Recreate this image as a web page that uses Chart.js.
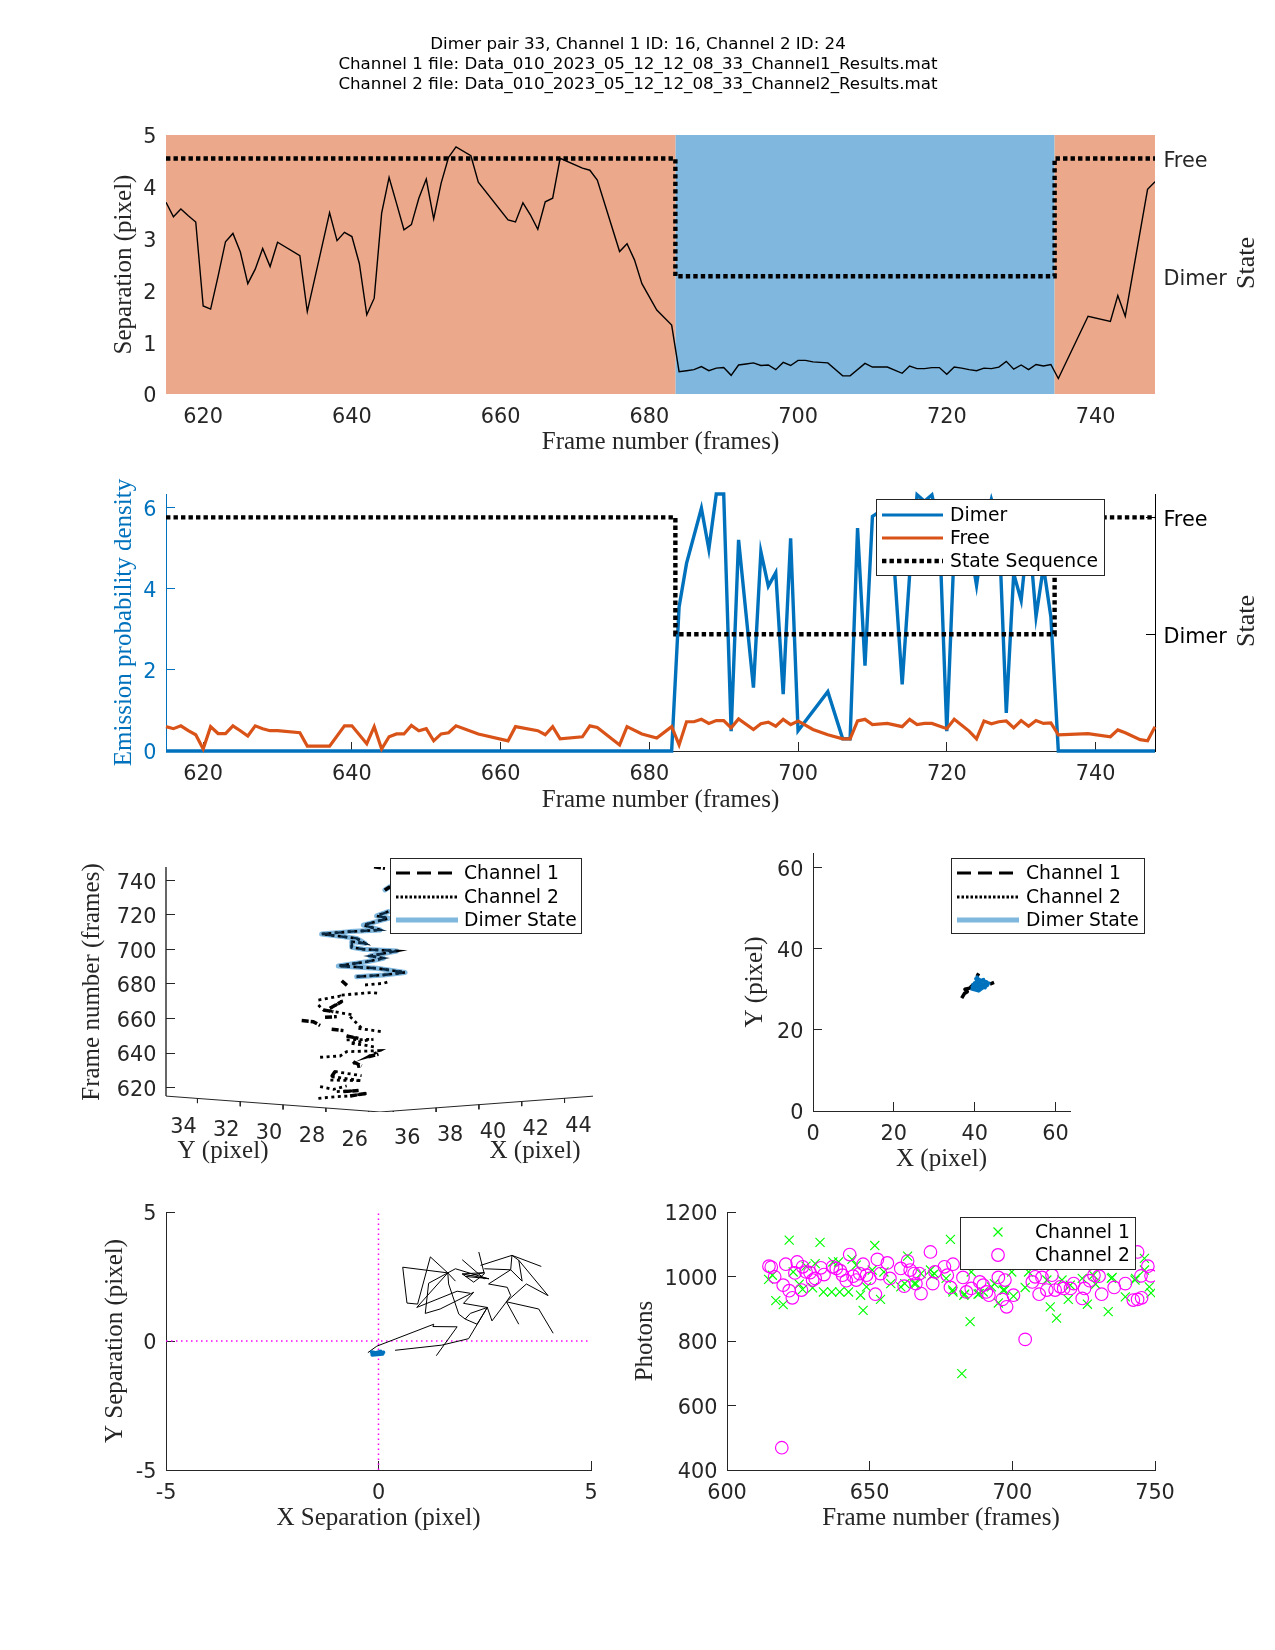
<!DOCTYPE html>
<html>
<head>
  <title>Dimer pair 33</title>
  <script src="https://cdn.jsdelivr.net/npm/chart.js"></script>
  <style>
    body { margin: 0; background: #fff; overflow: hidden; }
    canvas { position: absolute; left: 0; top: 0; }
  </style>
</head>
<body>
  <canvas id="sepChart" width="1275" height="1650"></canvas>
  <canvas id="emChart" width="1275" height="1650"></canvas>
  <canvas id="trackChart" width="1275" height="1650"></canvas>
  <canvas id="xyChart" width="1275" height="1650"></canvas>
  <canvas id="xySepChart" width="1275" height="1650"></canvas>
  <canvas id="photonChart" width="1275" height="1650"></canvas>

  <script>
    const titleLines = [
      "Dimer pair 33, Channel 1 ID: 16, Channel 2 ID: 24",
      "Channel 1 file: Data_010_2023_05_12_12_08_33_Channel1_Results.mat",
      "Channel 2 file: Data_010_2023_05_12_12_08_33_Channel2_Results.mat"
    ];

    const frameTicks = [620, 640, 660, 680, 700, 720, 740];
    const stateTicks = [1, 2];
    const stateNames = ["Dimer", "Free"];

    // state sequence, shared by the two upper panels
    const stateFrames = [615, 683.5, 683.5, 734.5, 734.5, 748];
    const stateLevels = [2, 2, 1, 1, 2, 2];
    const freePatch = [2.2, 2.2, 0, 0, 2.2, 2.2];
    const dimerPatch = [0, 0, 2.2, 2.2, 0, 0];

    const sepFrames = [615,616,617,618,619,620,621,622,623,624,625,626,627,628,629,630,633,634,637,638,639,640,641,642,643,644,645,646,647,648,649,650,651,652,653,654,656,657,661,662,663,664,665,666,667,668,671,672,673,676,677,678,679,681,683,684,685,686,687,688,689,690,691,692,693,694,695,696,697,698,699,700,701,702,704,706,707,709,710,712,714,715,716,717,718,719,720,721,722,723,724,725,726,727,728,729,730,731,732,733,734,735,739,742,743,744,747,748];
    const sepValues = [3.7,3.42,3.57,3.44,3.32,1.7,1.64,2.27,2.94,3.1,2.74,2.13,2.41,2.81,2.46,2.93,2.67,1.59,3.5,2.96,3.12,3.04,2.52,1.53,1.85,3.49,4.18,3.68,3.17,3.27,3.78,4.15,3.38,4.07,4.57,4.77,4.6,4.09,3.36,3.32,3.69,3.46,3.18,3.71,3.78,4.55,4.36,4.32,4.13,2.75,2.9,2.59,2.13,1.62,1.33,0.43,0.45,0.47,0.53,0.45,0.5,0.51,0.36,0.56,0.58,0.6,0.55,0.56,0.47,0.61,0.55,0.65,0.65,0.62,0.6,0.35,0.35,0.59,0.52,0.52,0.4,0.54,0.49,0.49,0.51,0.51,0.38,0.52,0.5,0.47,0.45,0.5,0.49,0.52,0.63,0.48,0.56,0.47,0.57,0.54,0.57,0.3,1.5,1.4,1.9,1.5,3.95,4.1];

    const dimerFrames = [615,683,684,685,687,688,689,690,691,692,694,695,696,697,698,699,700,704,706,707,708,709,710,711,712,713,714,715,716,717,718,719,720,721,722,723,724,725,726,727,728,729,730,731,732,733,734,735,748];
    const dimerValues = [0,0,3.55,4.62,5.98,4.97,6.33,6.33,0.49,5.2,1.56,4.91,4.06,4.39,1.4,5.24,0.5,1.46,0.3,0.3,5.49,2.1,5.78,5.9,6.0,4.37,1.64,4.33,6.31,6.15,6.31,5.5,0.49,5,5,5.2,4.08,5.4,6.2,5.6,0.94,4.37,3.71,5.5,3.31,4.54,3.3,0,0];

    const freeFrames = [615,616,617,618,619,620,621,622,623,624,625,626,627,628,629,630,633,634,637,639,640,642,643,644,645,646,647,648,649,650,651,652,653,654,657,661,662,665,666,667,668,671,672,673,676,677,679,681,683,684,685,686,687,688,689,690,691,692,694,695,696,697,698,699,700,702,704,706,707,708,709,710,712,714,715,716,717,718,720,721,723,724,725,726,727,728,729,730,731,732,733,734,735,739,742,743,744,746,747,748];
    const freeValues = [.6,.55,.62,.5,.4,.05,.6,.43,.43,.62,.5,.37,.62,.55,.5,.5,.45,.12,.12,.62,.62,.18,.6,.05,.35,.42,.42,.63,.5,.55,.25,.42,.45,.62,.42,.25,.6,.5,.4,.6,.3,.35,.62,.58,.15,.6,.42,.32,.6,.15,.72,.72,.78,.68,.75,.75,.57,.79,.53,.67,.71,.61,.78,.65,.74,.53,.4,.3,.3,.74,.78,.65,.68,.6,.78,.65,.68,.68,.55,.78,.49,.3,.74,.67,.72,.74,.57,.75,.61,.75,.68,.69,.4,.43,.35,.52,.45,.28,.25,.6];

    // 3D track, read as it appears: h = (x - y) across the page, v = frame height on the page
    const trackH = [-2.88,-2.02,-1.4,-0.62,null,-2.8,-2.18,-1.56,null,-2.02,-1.01,null,-2.26,-0.86,-2.34,-2.1,-0.86,null,-1.25,-1.09,-0.86,null,-2.8,-1.87,-1.56,0,-0.55,-0.08,null,-1.56,-0.31,-1.4,-0.78,-0.16,null,-1.56,-1.01,null,-1.01,0.08,null,-1.4,-0.78,null,-2.88,-2.65,-2.18,-1.25,null,-2.88,-1.87,-1.79,-2.34,null,-1.79,-0.39,-0.08,null,-0.7,0.16,0.39];
    const trackV = [613.8,614.8,615.2,616.7,null,620.6,619,621,null,617.7,618.3,null,626.4,624,624.4,629.3,626.9,null,635,632.1,632.5,null,637.6,638.3,640.8,641.4,637.9,639.3,null,647.6,648,645.7,644.7,643.3,null,649.9,648.5,null,654.3,652.4,null,661.1,653.4,null,667.8,664.9,664,662.1,null,670.7,673,669.8,665.9,null,673.6,675,674.6,null,679.4,680.4,681.3];
    const dashH = [-1.4,-0.62,null,-1.71,-1.01,null,-2.26,-2.1,null,-1.25,-0.86,null,-0.55,-0.08,null,-1.56,-1.01,null,-2.26,-1.71,null,-3.66,-3.12,-2.8,null,-2.57,-2.02,null,-2.65,-2.18,null,-2.34,-1.79,null,-1.79,-1.51,null,-0.28,0.23,null,0.23,0.47];
    const dashV = [615.2,616.7,null,617.7,618.3,null,626.4,629.3,null,635,632.5,null,637.9,639.3,null,649.9,648.5,null,653.8,653,null,658.8,658.2,655.9,null,660.7,661.1,null,664.9,664,null,665.9,669.8,null,681.9,678.8,null,747.9,746.9,null,734.4,736.3];
    const dimerH = [-1.09,0.16,1.17,-0.16,-1.95,-0.62,0.16,-0.47,0.78,-0.78,-1.32,-1.32,-0.7,-1.09,-2.73,-1.4,0,-0.78,0.39,-0.16,0.39,null,0.23,0.47];
    const dimerV = [684.2,685.2,686.7,689.1,690.4,692.9,694.9,696.2,699.1,700.1,701.2,704.5,703.5,706.4,708.9,710.3,711.3,714.1,718,719.4,721.9,null,734.4,736.3];
    const trackFrameTicks = [620, 640, 660, 680, 700, 720, 740];
    const trackYTicks = [34, 32, 30, 28, 26];
    const trackXTicks = [36, 38, 40, 42, 44];

    const xyBlackX = [36.8,37.5,38.2,37.6,38.8,39.5,40.2,null,40.6,41,null,43.8,44.8];
    const xyBlackY = [27.8,29,29.4,30,30.3,31,31.5,null,33.2,33.9,null,31.3,31.7];
    const xyBlueX = [39,41,43.5,41.5,40.6,42,43,40.3,41.8,39.6,41,42.6,40,42.2,39.4,43.2,41,40.4];
    const xyBlueY = [30.2,29.6,31.5,30,33,30.8,31.8,32.6,30.3,31.2,32,30.4,31.6,32.4,30.6,31,29.8,32.8];
    const xyTicks = [0, 20, 40, 60];

    const sepXPath = [-0.25,-0.04,1.30,1.28,1.85,1.36,null,0.39,1.49,2.12,2.56,2.16,2.04,2.32,2.56,2.67,3.01,3.77,4.11,null,2.04,1.89,1.65,1.63,1.22,0.92,0.67,0.57,1.63,1.81,null,1.63,1.18,1.10,1.45,2.24,2.00,2.56,null,3.01,3.30,null,3.01,3.11,3.03,2.59,3.11,2.49,null,3.11,3.38,3.30,3.99,3.48,3.01,null,0.90,1.63,1.81,2.59,null,0.90,1.85,2.16,null,2.36,2.49,2.24,1.97,2.59,null,1.97,2.49,null,2.40,3.14,3.11,null,3.14,3.83,null,3.14,3.30,null,1.97,2.49,2.05,2.6];
    const sepYPath = [-0.45,-0.20,0.65,0.56,0.55,-0.57,null,-0.36,-0.16,0.09,1.30,1.07,0.85,0.65,1.30,0.78,1.52,1.24,0.30,null,0.85,1.04,2.21,2.64,3.26,1.43,1.47,2.86,2.64,2.32,null,2.64,2.24,1.07,1.24,1.89,1.46,1.30,null,1.52,0.65,null,1.52,1.76,2.08,2.21,2.76,2.80,null,2.76,2.32,3.13,1.76,2.21,1.52,null,1.30,2.64,2.80,2.41,null,1.30,1.93,1.85,null,3.45,2.60,2.28,2.60,2.41,null,3.15,2.41,null,2.93,3.32,2.76,null,3.32,2.89,null,3.32,3.13,null,2.60,2.65,2.5,2.42];
    const sepBlueX = [-0.2,0.1,-0.15,0.05,-0.12,0.12,-0.08];
    const sepBlueY = [-0.42,-0.5,-0.54,-0.4,-0.48,-0.44,-0.52];
    const sepTicks = [-5, 0, 5];

    const ch1Frames = [614.6,615.9,617.1,619.7,621.8,623.2,625.3,626.5,627.7,630,630.9,632.6,633.8,636.7,637.1,639.5,639.1,642.6,643.8,645.3,646.8,647.7,648.9,650.9,651.8,653.8,655,657.4,660.9,662.3,663.3,665.6,666.2,668,671.3,672,672.7,676.8,678.3,679.1,679.2,682.3,683,683.3,685.2,685.6,688,688.4,689.8,692.7,693.7,695.1,696.8,697.3,699.8,700.4,704.5,705.7,712.1,713.3,715.5,717.4,719.6,720.3,724.5,726.3,728.4,729.2,733.6,734.7,735,739.6,743,743.2,746.3,746.3,748,748.6];
    const ch1Photons = [991,1004,925,913,1113,1014,976,960,1032,965,1040,1106,952,952,1045,952,1045,952,1053,1035,942,895,968,1020,1096,929,1014,978,968,978,1063,978,978,1009,1020,1004,1009,994,1115,958,952,699,942,945,860,1014,945,947,952,968,978,918,958,958,1014,939,966,1014,989,906,871,989,929,973,994,914,1004,976,891,994,997,937,989,994,1056,1020,968,949];
    const ch2Frames = [614.7,615.5,616.7,619.2,619.7,620.6,621.8,622.9,623.8,624.6,626.1,626.5,627.7,629.1,630,630.9,632.9,634,637,638.3,639.7,640.5,641.8,643,644.2,645.3,646.5,647.7,648.9,650,652,652.7,653.8,656.2,657.1,660.9,662.1,663.3,664.2,665.6,666.2,667.4,668,671.3,672.1,672.9,676.2,677.2,678.3,679.2,682.7,683.9,685.6,688.6,689.8,690.9,691.8,695.1,696.5,697.4,698,700.4,704.5,707,708,709.4,710.4,712.1,713.9,715,716.8,718,720.4,721.5,724.5,725.3,727.1,728.6,730.4,731.3,735.7,739.6,742.4,743.9,743.9,745.1,745.3,747.5,748.6];
    const ch2Photons = [1032,1029,999,469,973,1038,956,934,1011,1045,958,1030,1014,1012,989,994,1027,1006,1030,1025,1018,1004,987,1068,1001,989,1009,1038,1004,994,945,1053,1009,1042,994,1025,970,1048,1020,1009,978,1009,947,1076,978,1014,1030,1004,966,1038,997,952,963,983,973,952,942,997,929,989,906,942,805,983,999,945,997,958,1004,958,968,963,963,978,932,963,987,1004,1001,945,966,978,927,929,1076,1002,934,1032,1002];
    const photonXTicks = [600, 650, 700, 750];
    const photonYTicks = [400, 600, 800, 1000, 1200];

    const DARK = "#262626";
    const SERIF = "'Liberation Serif', serif";
    const BLUE = "#0072BD";
    const ORANGE = "#D95319";
    const LIGHTBLUE = "#7FB7DE";
    const SALMON = "#ECA88B";

    Chart.defaults.font.family = "'DejaVu Sans', sans-serif";
    Chart.defaults.animation = false;
    Chart.defaults.responsive = false;
    Chart.defaults.devicePixelRatio = 1;
    Chart.defaults.elements.point.radius = 0;
    Chart.defaults.plugins.legend.display = false;
    Chart.defaults.plugins.tooltip.enabled = false;

    function pts(xs, ys) {
      return xs.map((x, i) => ({ x: x, y: ys[i] }));
    }

    // page size canvases, so the padding puts each plot area where it belongs
    function place(L, T, R, B, leftW, rightW, bottomH) {
      return { padding: { left: L - leftW, top: T, right: 1275 - R - rightW, bottom: 1650 - B - bottomH } };
    }

    function axis(o) {
      const color = o.color || DARK;
      const horizontal = o.pos === "bottom";
      return {
        type: "linear",
        position: o.pos,
        min: o.min,
        max: o.max,
        afterFit: s => { if (horizontal) s.height = o.size; else s.width = o.size; },
        afterBuildTicks: s => { s.ticks = o.ticks.map(v => ({ value: v })); },
        border: { display: o.line !== false, color: color, width: 1 },
        grid: { drawOnChartArea: false, drawTicks: true, tickLength: -9, lineWidth: 1, color: o.line === false && !o.tickMarks ? "transparent" : color },
        ticks: {
          color: color,
          padding: o.pad || (horizontal ? 20 : 18.5),
          labelOffset: horizontal ? 0 : 3,
          autoSkip: false,
          maxRotation: 0,
          font: { size: 20.8 },
          callback: v => (o.labels ? o.labels[o.ticks.indexOf(v)] : String(v))
        },
        title: o.title ? { display: true, text: o.title, color: color, padding: 0, font: { family: SERIF, size: 25 } } : { display: false }
      };
    }

    const pageText = {
      id: "pageText",
      afterDraw(chart, args, opts) {
        const ctx = chart.ctx;
        (opts.items || []).forEach(t => {
          ctx.save();
          ctx.translate(t.x, t.y);
          ctx.rotate(t.rot || 0);
          ctx.font = t.font;
          ctx.fillStyle = t.color || DARK;
          ctx.textAlign = "center";
          ctx.textBaseline = "middle";
          ctx.fillText(t.text, 0, 0);
          ctx.restore();
        });
      }
    };

    const boxLegend = {
      id: "boxLegend",
      afterDraw(chart, args, opts) {
        const ctx = chart.ctx;
        ctx.save();
        ctx.fillStyle = "#fff";
        ctx.fillRect(opts.x, opts.y, opts.w, opts.h);
        ctx.strokeStyle = DARK;
        ctx.lineWidth = 1;
        ctx.strokeRect(opts.x + 0.5, opts.y + 0.5, opts.w, opts.h);
        ctx.font = "18.75px 'DejaVu Sans'";
        ctx.textBaseline = "middle";
        opts.rows.forEach(r => {
          ctx.strokeStyle = r.color;
          if (r.marker === "cross") {
            ctx.lineWidth = 1.2;
            ctx.beginPath();
            ctx.moveTo(opts.mark - 4.5, r.y - 4.5); ctx.lineTo(opts.mark + 4.5, r.y + 4.5);
            ctx.moveTo(opts.mark + 4.5, r.y - 4.5); ctx.lineTo(opts.mark - 4.5, r.y + 4.5);
            ctx.stroke();
          } else if (r.marker === "circle") {
            ctx.lineWidth = 1.2;
            ctx.beginPath();
            ctx.arc(opts.mark, r.y, 6.3, 0, Math.PI * 2);
            ctx.stroke();
          } else {
            ctx.lineWidth = r.width;
            ctx.setLineDash(r.dash || []);
            ctx.beginPath();
            ctx.moveTo(opts.x1, r.y);
            ctx.lineTo(opts.x2, r.y);
            ctx.stroke();
            ctx.setLineDash([]);
          }
          ctx.fillStyle = "#000";
          ctx.fillText(r.label, opts.tx, r.y + 1.5);
        });
        ctx.restore();
      }
    };

    // tick labels under the floor of the 3D box
    const floorLabels = {
      id: "floorLabels",
      afterDraw(chart) {
        const ctx = chart.ctx;
        const sx = chart.scales.x, sy = chart.scales.y;
        ctx.save();
        ctx.font = "20.8px 'DejaVu Sans'";
        ctx.fillStyle = DARK;
        ctx.textAlign = "center";
        ctx.textBaseline = "middle";
        trackYTicks.forEach(t => {
          const h = yTickH(t);
          ctx.fillText(t, sx.getPixelForValue(h) - 14, sy.getPixelForValue(floorV(h)) + 29);
        });
        trackXTicks.forEach(t => {
          const h = xTickH(t);
          ctx.fillText(t, sx.getPixelForValue(h) + 14, sy.getPixelForValue(floorV(h)) + 28);
        });
        ctx.restore();
      }
    };
    const yTickH = t => -(t - 25.47);
    const xTickH = t => t - 35.38;
    const floorV = h => 605.9 + Math.abs(h) * 0.92;

    const STATE_DASH = [4.4, 3.1];
    const stateSet = { label: "State Sequence", data: pts(stateFrames, stateLevels), yAxisID: "y2", borderColor: "#000", borderWidth: 4.4, borderDash: STATE_DASH, clip: 4 };

    const titleItems = titleLines.map((t, i) => ({ text: t, x: 638, y: 45 + i * 20, font: "16.7px 'DejaVu Sans'", color: "#000" }));
    const stateLabel = y => ({ text: "State", x: 1247, y: y, rot: -Math.PI / 2, font: "26px " + SERIF });

    // separation over frames
    new Chart(document.getElementById("sepChart"), {
      type: "line",
      data: {
        datasets: [
          stateSet,
          { label: "Separation", data: pts(sepFrames, sepValues), borderColor: "#000", borderWidth: 1.4 },
          { label: "Free region", data: pts(stateFrames, freePatch), yAxisID: "y2", borderWidth: 0, borderColor: "transparent", backgroundColor: SALMON, fill: "origin" },
          { label: "Dimer region", data: pts(stateFrames, dimerPatch), yAxisID: "y2", borderWidth: 0, borderColor: "transparent", backgroundColor: LIGHTBLUE, fill: "origin" }
        ]
      },
      options: {
        layout: place(166, 135, 1155, 394, 57, 90, 63),
        scales: {
          x: axis({ pos: "bottom", min: 615, max: 748, ticks: frameTicks, size: 63, title: "Frame number (frames)", line: false }),
          y: axis({ pos: "left", min: 0, max: 5, ticks: [0, 1, 2, 3, 4, 5], size: 57, title: "Separation (pixel)", line: false }),
          y2: axis({ pos: "right", min: 0, max: 2.2, ticks: stateTicks, labels: stateNames, size: 90, line: false, pad: 17.4 })
        },
        plugins: {
          pageText: { items: titleItems.concat([stateLabel(263)]) }
        }
      },
      plugins: [pageText]
    });

    // emission probability
    new Chart(document.getElementById("emChart"), {
      type: "line",
      data: {
        datasets: [
          { label: "Free", data: pts(freeFrames, freeValues), borderColor: ORANGE, borderWidth: 3.2, clip: 4 },
          Object.assign({}, stateSet),
          { label: "Dimer", data: pts(dimerFrames, dimerValues), borderColor: BLUE, borderWidth: 3.4, clip: 4 }
        ]
      },
      options: {
        layout: place(166, 494, 1155, 751, 57, 90, 64),
        scales: {
          x: axis({ pos: "bottom", min: 615, max: 748, ticks: frameTicks, size: 64, title: "Frame number (frames)" }),
          y: axis({ pos: "left", min: 0, max: 6.33, ticks: [0, 2, 4, 6], size: 57, title: "Emission probability density", color: BLUE }),
          y2: axis({ pos: "right", min: 0, max: 2.2, ticks: stateTicks, labels: stateNames, size: 90, pad: 17.4, color: "#000" })
        },
        plugins: {
          pageText: { items: [stateLabel(621)] },
          boxLegend: {
            x: 876, y: 499, w: 228, h: 76, x1: 882, x2: 943, tx: 950,
            rows: [
              { label: "Dimer", y: 515, color: BLUE, width: 3.2 },
              { label: "Free", y: 538, color: ORANGE, width: 3.2 },
              { label: "State Sequence", y: 561, color: "#000", width: 4.4, dash: STATE_DASH }
            ]
          }
        }
      },
      plugins: [pageText, boxLegend]
    });

    const CH1_DASH = [14, 7];
    const channelRows = [
      { label: "Channel 1", y: 873, color: "#000", width: 3, dash: CH1_DASH },
      { label: "Channel 2", y: 897, color: "#000", width: 3, dash: [2.5, 2] },
      { label: "Dimer State", y: 920, color: LIGHTBLUE, width: 5 }
    ];

    // floor of the 3D box, built from the tick values
    const floorHs = [-10, 0, 9.95];
    const floorVs = floorHs.map(floorV);
    const tickMarks = [];
    trackYTicks.map(yTickH).concat(trackXTicks.map(xTickH)).forEach(h => {
      tickMarks.push({ x: h, y: floorV(h) }, { x: h, y: floorV(h) - 2.7 }, { x: null, y: null });
    });

    new Chart(document.getElementById("trackChart"), {
      type: "scatter",
      data: {
        datasets: [
          { label: "Channel 1", data: pts(dashH, dashV), showLine: true, borderColor: "#000", borderWidth: 3.5, borderDash: [7, 2] },
          { label: "Channel 2", data: pts(trackH, trackV), showLine: true, borderColor: "#000", borderWidth: 2.8, borderDash: [3, 3.5] },
          { label: "Channel 1 dimer", data: pts(dimerH, dimerV), showLine: true, borderColor: "#0b2a44", borderWidth: 2.4, borderDash: [7, 6] },
          { label: "Channel 2 dimer", data: pts(dimerH, dimerV), showLine: true, borderColor: "#000", borderWidth: 2.6, borderDash: [3, 3.5] },
          { label: "Dimer State", data: pts(dimerH, dimerV), showLine: true, borderColor: LIGHTBLUE, borderWidth: 5, borderJoinStyle: "round", borderCapStyle: "round" },
          { label: "floor", data: pts(floorHs, floorVs), showLine: true, borderColor: DARK, borderWidth: 1 },
          { label: "floor ticks", data: tickMarks, showLine: true, borderColor: DARK, borderWidth: 1 },
          { label: "frame axis", data: pts([-10, -10], [floorV(-10), 747.7]), showLine: true, borderColor: DARK, borderWidth: 1.4, clip: 4 }
        ]
      },
      options: {
        layout: place(166, 867, 593, 1112, 60, 0, 0),
        scales: {
          x: { type: "linear", display: false, min: -10, max: 9.95 },
          y: axis({ pos: "left", min: 605.9, max: 747.7, ticks: trackFrameTicks, size: 60, line: false, tickMarks: true })
        },
        plugins: {
          pageText: {
            items: [
              { text: "Frame number (frames)", x: 92, y: 982, rot: -Math.PI / 2, font: "25px " + SERIF },
              { text: "Y (pixel)", x: 223, y: 1151, font: "25px " + SERIF },
              { text: "X (pixel)", x: 535, y: 1151, font: "25px " + SERIF }
            ]
          },
          boxLegend: { x: 390, y: 858, w: 191, h: 75, x1: 396, x2: 458, tx: 464, rows: channelRows }
        }
      },
      plugins: [pageText, boxLegend, floorLabels]
    });

    // x-y positions
    new Chart(document.getElementById("xyChart"), {
      type: "scatter",
      data: {
        datasets: [
          { label: "Dimer State", data: pts(xyBlueX, xyBlueY), showLine: true, borderColor: BLUE, borderWidth: 3.5, borderJoinStyle: "round" },
          { label: "Channels", data: pts(xyBlackX, xyBlackY), showLine: true, borderColor: "#000", borderWidth: 3.5, borderJoinStyle: "round" }
        ]
      },
      options: {
        layout: place(813, 853, 1070, 1111, 72.5, 0, 63),
        scales: {
          x: axis({ pos: "bottom", min: 0, max: 63.6, ticks: xyTicks, size: 63, title: "X (pixel)" }),
          y: axis({ pos: "left", min: 0, max: 63.6, ticks: xyTicks, size: 72.5, title: "Y (pixel)" })
        },
        plugins: {
          boxLegend: { x: 951, y: 858, w: 193, h: 75, x1: 957, x2: 1019, tx: 1026, rows: channelRows }
        }
      },
      plugins: [boxLegend]
    });

    // x-y separation
    new Chart(document.getElementById("xySepChart"), {
      type: "scatter",
      data: {
        datasets: [
          { label: "Dimer State", data: pts(sepBlueX, sepBlueY), showLine: true, borderColor: BLUE, borderWidth: 3.5, borderJoinStyle: "round" },
          { label: "Separation", data: pts(sepXPath, sepYPath), showLine: true, borderColor: "#000", borderWidth: 1 },
          { label: "x zero", data: pts([0, 0], [-5, 5]), showLine: true, borderColor: "#f0f", borderWidth: 1.5, borderDash: [1.5, 3.5] },
          { label: "y zero", data: pts([-5, 5], [0, 0]), showLine: true, borderColor: "#f0f", borderWidth: 1.5, borderDash: [1.5, 3.5] }
        ]
      },
      options: {
        layout: place(166, 1212, 591, 1470, 66, 0, 63),
        scales: {
          x: axis({ pos: "bottom", min: -5, max: 5, ticks: sepTicks, size: 63, title: "X Separation (pixel)" }),
          y: axis({ pos: "left", min: -5, max: 5, ticks: sepTicks, size: 66, title: "Y Separation (pixel)" })
        }
      }
    });

    // photons
    new Chart(document.getElementById("photonChart"), {
      type: "scatter",
      data: {
        datasets: [
          { label: "Channel 2", data: pts(ch2Frames, ch2Photons), pointStyle: "circle", pointRadius: 6.3, borderColor: "#f0f", backgroundColor: "transparent", pointBorderWidth: 1.15 },
          { label: "Channel 1", data: pts(ch1Frames, ch1Photons), pointStyle: "crossRot", pointRadius: 6.4, borderColor: "#0f0", backgroundColor: "transparent", pointBorderWidth: 1.15 }
        ]
      },
      options: {
        layout: place(727, 1212, 1155, 1470, 97, 0, 63),
        scales: {
          x: axis({ pos: "bottom", min: 600, max: 750, ticks: photonXTicks, size: 63, title: "Frame number (frames)" }),
          y: axis({ pos: "left", min: 400, max: 1200, ticks: photonYTicks, size: 97, title: "Photons" })
        },
        plugins: {
          boxLegend: {
            x: 960, y: 1217, w: 175, h: 52, mark: 998, tx: 1035,
            rows: [
              { label: "Channel 1", y: 1232, color: "#0f0", marker: "cross" },
              { label: "Channel 2", y: 1255, color: "#f0f", marker: "circle" }
            ]
          }
        }
      },
      plugins: [boxLegend]
    });
  </script>
</body>
</html>
